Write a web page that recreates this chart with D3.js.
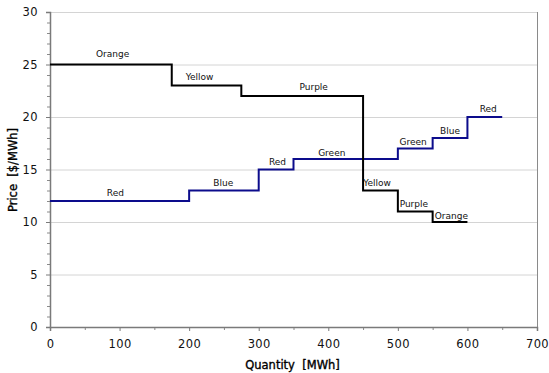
<!DOCTYPE html>
<html>
<head>
<meta charset="utf-8">
<script src="https://cdn.jsdelivr.net/npm/d3@7"></script>
<style>
  body { margin: 0; background: #fff; }
  text { font-family: "DejaVu Sans", Verdana, sans-serif; }
</style>
</head>
<body>
<div id="chart"></div>
<script>
// supply steps (blue) : [start, end, price]
var supplyStart = [0, 200, 300, 350, 500, 550, 600];
var supplyEnd   = [200, 300, 350, 500, 550, 600, 650];
var supplyPrice = [12, 13, 15, 16, 17, 18, 20];
var supplyNames = ["Red", "Blue", "Red", "Green", "Green", "Blue", "Red"];
var supplyLabelQ = [94, 249, 327, 405, 522, 575, 630];
var supplyLabelP = [12.75, 13.7, 15.75, 16.6, 17.65, 18.65, 20.75];

// demand steps (black)
var demandStart = [0, 175, 275, 450, 500, 550];
var demandEnd   = [175, 275, 450, 500, 550, 600];
var demandPrice = [25, 23, 22, 13, 11, 10];
var demandNames = ["Orange", "Yellow", "Purple", "Yellow", "Purple", "Orange"];
var demandLabelQ = [90, 215, 379, 470, 523, 577];
var demandLabelP = [26.05, 23.85, 22.9, 13.75, 11.7, 10.55];

var xTicks = [0, 100, 200, 300, 400, 500, 600, 700];
var yTicks = [0, 5, 10, 15, 20, 25, 30];

var svgWidth = 549;
var svgHeight = 373;
var margin = { top: 12, right: 12, bottom: 46, left: 50 };
var width = 487;
var height = 315;

var svg = d3.select("#chart")
  .append("svg")
  .attr("width", svgWidth)
  .attr("height", svgHeight);

var chartGroup = svg.append("g")
  .attr("transform", `translate(${margin.left}, ${margin.top})`);

var x = d3.scaleLinear().domain([0, 700]).range([0, width]);
var y = d3.scaleLinear().domain([0, 30]).range([height, 0]);

// gridlines
chartGroup.selectAll(".grid")
  .data(yTicks.filter(d => d > 0))
  .enter()
  .append("line")
  .attr("x1", 0)
  .attr("x2", width)
  .attr("y1", d => y(d) + 0.5)
  .attr("y2", d => y(d) + 0.5)
  .attr("stroke", "#d4d4d4")
  .attr("stroke-width", 1);

// right border
chartGroup.append("line")
  .attr("x1", width + 0.5).attr("x2", width + 0.5)
  .attr("y1", 0).attr("y2", height)
  .attr("stroke", "#8a8a8a");

// axes
var bottomAxis = d3.axisBottom(x).tickValues(xTicks).tickSize(4).tickPadding(9).tickFormat(d3.format("d"));
var leftAxis = d3.axisLeft(y).tickValues(yTicks).tickSize(4).tickPadding(8);

var xMinor = d3.range(50, 700, 100);
var yMinor = d3.range(0, 31, 1).filter(d => d % 5 !== 0);

chartGroup.selectAll(".xminor")
  .data(xMinor)
  .enter()
  .append("line")
  .attr("x1", d => x(d) + 0.5).attr("x2", d => x(d) + 0.5)
  .attr("y1", height).attr("y2", height + 3)
  .attr("stroke", "#8a8a8a");

chartGroup.selectAll(".yminor")
  .data(yMinor)
  .enter()
  .append("line")
  .attr("x1", -3).attr("x2", 0)
  .attr("y1", d => y(d) + 0.5).attr("y2", d => y(d) + 0.5)
  .attr("stroke", "#8a8a8a");

var xAxis = chartGroup.append("g")
  .attr("transform", `translate(0, ${height})`)
  .call(bottomAxis);

var yAxis = chartGroup.append("g")
  .call(leftAxis);

[xAxis, yAxis].forEach(function(ax) {
  ax.select(".domain").attr("stroke", "#7a7a7a").attr("stroke-width", 1.5);
  ax.selectAll(".tick line").attr("stroke", "#7a7a7a");
  ax.selectAll(".tick text")
    .attr("fill", "#111")
    .style("font-size", "11.5px")
    .style("letter-spacing", "0.4px")
    .style("font-family", "'DejaVu Sans', Verdana, sans-serif");
});

// step lines
function stepPoints(starts, ends, prices) {
  var pts = [];
  starts.forEach(function(s, i) {
    pts.push([s, prices[i]]);
    pts.push([ends[i], prices[i]]);
  });
  return pts;
}

var line = d3.line()
  .x(d => x(d[0]))
  .y(d => y(d[1]));

chartGroup.append("path")
  .datum(stepPoints(supplyStart, supplyEnd, supplyPrice))
  .attr("d", line)
  .attr("fill", "none")
  .attr("stroke", "#0c0c8c")
  .attr("stroke-width", 2);

chartGroup.append("path")
  .datum(stepPoints(demandStart, demandEnd, demandPrice))
  .attr("d", line)
  .attr("fill", "none")
  .attr("stroke", "#000")
  .attr("stroke-width", 2);

// step labels
function addLabels(names, qs, ps) {
  chartGroup.selectAll(null)
    .data(names)
    .enter()
    .append("text")
    .attr("x", (d, i) => x(qs[i]))
    .attr("y", (d, i) => y(ps[i]))
    .attr("dy", "0.35em")
    .attr("text-anchor", "middle")
    .style("font-size", "9px")
    .attr("fill", "#111")
    .text(d => d);
}
addLabels(supplyNames, supplyLabelQ, supplyLabelP);
addLabels(demandNames, demandLabelQ, demandLabelP);

// axis titles
svg.append("text")
  .attr("x", margin.left + width / 2 - 1)
  .attr("y", 369)
  .attr("text-anchor", "middle")
  .style("font-size", "11.5px")
  .style("white-space", "pre")
  .attr("fill", "#000")
  .attr("stroke", "#000")
  .attr("stroke-width", 0.35)
  .text("Quantity  [MWh]");

svg.append("text")
  .attr("transform", "translate(17, 170) rotate(-90)")
  .attr("text-anchor", "middle")
  .style("font-size", "11.5px")
  .style("white-space", "pre")
  .attr("fill", "#000")
  .attr("stroke", "#000")
  .attr("stroke-width", 0.35)
  .text("Price  [$/MWh]");
</script>
</body>
</html>
